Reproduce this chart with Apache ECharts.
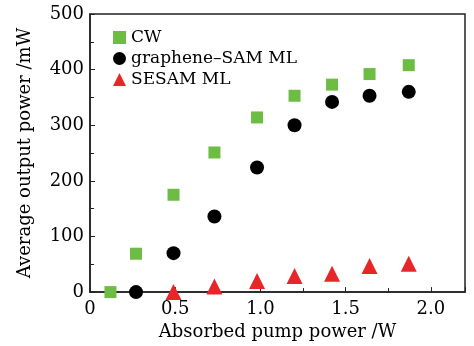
<!DOCTYPE html>
<html>
<head>
<meta charset="utf-8">
<script src="https://cdn.jsdelivr.net/npm/echarts@6/dist/echarts.min.js"></script>
<style>
  html, body { margin: 0; padding: 0; background: #fff; }
  #chart { width: 474px; height: 346px; }
</style>
</head>
<body>
<div id="chart"></div>
<script>
// absorbed pump power (W) and output power (mW)
const cwX = [0.12, 0.27, 0.49, 0.73, 0.98, 1.20, 1.42, 1.64, 1.87];
const cwY = [0, 69, 175, 251, 314, 353, 373, 392, 408];
const grX = [0.27, 0.49, 0.73, 0.98, 1.20, 1.42, 1.64, 1.87];
const grY = [0, 70, 136, 224, 300, 342, 353, 360];
const seX = [0.49, 0.73, 0.98, 1.20, 1.42, 1.64, 1.87];
const seY = [0, 10, 20, 29, 33, 47, 51];

const zip = (xs, ys) => xs.map((x, i) => [x, ys[i]]);
const font = 'DejaVu Serif';

var myChart = echarts.init(document.getElementById('chart'));
myChart.setOption({
  animation: false,
  textStyle: { fontFamily: font, color: '#000' },
  grid: {
    left: 90, right: 9, top: 14, bottom: 49,
    show: true, borderColor: '#222', borderWidth: 1.5
  },
  legend: {
    left: 108, top: 24, orient: 'vertical', itemGap: 4,
    itemWidth: 13, itemHeight: 13,
    textStyle: { fontFamily: font, fontSize: 17, color: '#000' },
    data: ['CW', 'graphene\u2013SAM ML', 'SESAM ML']
  },
  xAxis: {
    type: 'value', min: 0, max: 2.2, interval: 0.5,
    name: 'Absorbed pump power /W', nameLocation: 'middle', nameGap: 30,
    nameTextStyle: { fontFamily: font, fontSize: 18, color: '#000' },
    splitLine: { show: false },
    axisLine: { lineStyle: { color: '#222', width: 1.5 } },
    axisTick: { inside: true, length: 5, lineStyle: { color: '#222' } },
    minorTick: { show: true, splitNumber: 2, length: 4, lineStyle: { color: '#222' } },
    axisLabel: {
      fontFamily: font, fontSize: 18, color: '#000', margin: 8,
      formatter(v) {
        if (v === 0) return '0';
        return Math.abs(v * 2 - Math.round(v * 2)) < 1e-6 ? v.toFixed(1) : '';
      }
    }
  },
  yAxis: {
    type: 'value', min: 0, max: 500, interval: 100,
    name: 'Average output power /mW', nameLocation: 'middle', nameGap: 56,
    nameTextStyle: { fontFamily: font, fontSize: 18, color: '#000' },
    splitLine: { show: false },
    axisLine: { lineStyle: { color: '#222', width: 1.5 } },
    axisTick: { inside: true, length: 5, lineStyle: { color: '#222' } },
    minorTick: { show: true, splitNumber: 2, length: 4, lineStyle: { color: '#222' } },
    axisLabel: { fontFamily: font, fontSize: 18, color: '#000', margin: 6 }
  },
  series: [
    {
      name: 'CW', type: 'scatter', symbol: 'rect', symbolSize: 12,
      itemStyle: { color: '#6dbd45', opacity: 1 }, data: zip(cwX, cwY)
    },
    {
      name: 'graphene\u2013SAM ML', type: 'scatter', symbol: 'circle', symbolSize: 14,
      itemStyle: { color: '#000', opacity: 1 }, data: zip(grX, grY)
    },
    {
      name: 'SESAM ML', type: 'scatter', symbol: 'triangle', symbolSize: 16,
      itemStyle: { color: '#e8262a', opacity: 1 }, data: zip(seX, seY)
    }
  ]
});
</script>
</body>
</html>
